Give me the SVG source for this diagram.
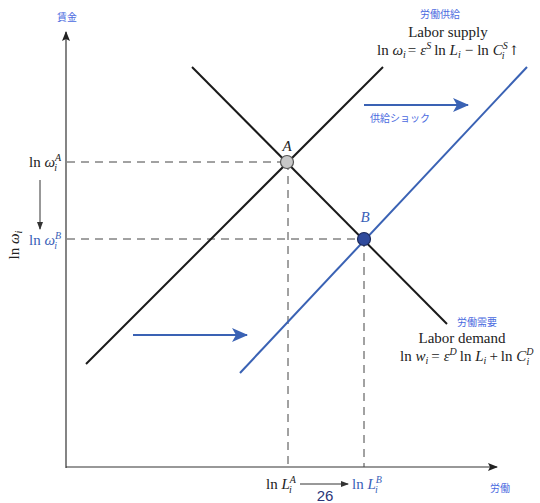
<svg xmlns="http://www.w3.org/2000/svg" width="540" height="503" viewBox="0 0 540 503">
<style>
.t{font-family:"Liberation Serif","DejaVu Serif",serif;font-size:15px;fill:#222}
.tb{font-family:"Liberation Serif","DejaVu Serif",serif;font-size:15px;fill:#3a5fb8}
.i{font-style:italic}
.s{font-size:10px}
.jp{font-family:"Noto Sans CJK JP",sans-serif;font-size:10px;fill:#4a6ae0}
.ax{stroke:#333;stroke-width:1.2;fill:none}
.bk{stroke:#1a1a1a;stroke-width:2;fill:none}
.bl{stroke:#3a62b4;stroke-width:2;fill:none}
.da{stroke:#444;stroke-width:1;stroke-dasharray:8,6;fill:none}
</style>
<defs>
<marker id="ah" markerWidth="10" markerHeight="8" refX="9" refY="4" orient="auto" markerUnits="userSpaceOnUse"><path d="M0,0 L10,4 L0,8 L2,4 Z" fill="#222"/></marker>
<marker id="ahs" markerWidth="8" markerHeight="6" refX="7" refY="3" orient="auto" markerUnits="userSpaceOnUse"><path d="M0,0 L8,3 L0,6 Z" fill="#333"/></marker>
<marker id="ahb" markerWidth="16" markerHeight="14" refX="15" refY="7" orient="auto" markerUnits="userSpaceOnUse"><path d="M0,0 L16,7 L0,14 L4,7 Z" fill="#3a62b4"/></marker>
</defs>
<g id="connectors">
<line class="ax" x1="66" y1="468" x2="66" y2="32" marker-end="url(#ah)"/>
<line class="ax" x1="66" y1="467" x2="497" y2="467" marker-end="url(#ah)"/>
<line class="da" x1="67" y1="162" x2="287" y2="162"/>
<line class="da" x1="288" y1="162" x2="288" y2="467"/>
<line class="da" x1="67" y1="239" x2="364" y2="239"/>
<line class="da" x1="364" y1="239" x2="364" y2="467"/>
<line class="bk" x1="86" y1="364" x2="383" y2="67"/>
<line class="bk" x1="192" y1="67" x2="447" y2="324"/>
<line class="bl" x1="240" y1="373" x2="527" y2="67"/>
<line class="bl" x1="133" y1="335" x2="247" y2="335" marker-end="url(#ahb)"/>
<line class="bl" x1="364" y1="105" x2="468" y2="105" marker-end="url(#ahb)"/>
<line x1="40" y1="180" x2="40" y2="229" stroke="#333" stroke-width="1" marker-end="url(#ahs)"/>
<line x1="300" y1="484" x2="348" y2="484" stroke="#333" stroke-width="1" marker-end="url(#ahs)"/>
</g>
<g id="pointA"><circle cx="287" cy="162" r="6.5" fill="#c8c8c8" stroke="#555" stroke-width="1.2"/><text class="t i" x="287" y="151" text-anchor="middle">A</text></g>
<g id="pointB"><circle cx="364" cy="239" r="6.5" fill="#2f4a9c" stroke="#1c2a5a" stroke-width="1.2"/><text class="tb i" x="365" y="222" text-anchor="middle">B</text></g>
<g id="yaxis-label">
<text class="jp" x="67" y="21" text-anchor="middle">賃金</text>
<text class="t" transform="translate(19,245) rotate(-90)" text-anchor="middle">ln <tspan class="i">ω</tspan><tspan class="i s" dy="3">i</tspan></text>
</g>
<g id="wA"><text class="t" x="29" y="167">ln <tspan class="i">ω</tspan><tspan class="i s" dy="-6">A</tspan><tspan class="i s" dx="-7" dy="10">i</tspan></text></g>
<g id="wB"><text class="tb" x="29" y="245">ln <tspan class="i">ω</tspan><tspan class="i s" dy="-6">B</tspan><tspan class="i s" dx="-7" dy="10">i</tspan></text></g>
<g id="LA"><text class="t" x="266" y="489">ln <tspan class="i">L</tspan><tspan class="i s" dy="-6">A</tspan><tspan class="i s" dx="-7" dy="10">i</tspan></text></g>
<g id="LB"><text class="tb" x="352" y="489">ln <tspan class="i">L</tspan><tspan class="i s" dy="-6">B</tspan><tspan class="i s" dx="-7" dy="10">i</tspan></text></g>
<g id="page"><text x="325" y="501" text-anchor="middle" font-family="Liberation Sans, Arial, sans-serif" font-size="15" fill="#2b3578">26</text></g>
<g id="xaxis-label"><text class="jp" x="500" y="492" text-anchor="middle">労働</text></g>
<g id="supply">
<text class="jp" x="440" y="18" text-anchor="middle">労働供給</text>
<text class="t" x="448" y="37" text-anchor="middle">Labor supply</text>
<text class="t" x="377" y="55">ln <tspan class="i">ω</tspan><tspan class="i s" dy="3">i</tspan><tspan dx="2" dy="-3">=</tspan><tspan class="i" dx="4">ε</tspan><tspan class="i s" dy="-6">S</tspan><tspan dx="3" dy="6">ln </tspan><tspan class="i">L</tspan><tspan class="i s" dy="3">i</tspan><tspan dx="4" dy="-3">−</tspan><tspan dx="4">ln </tspan><tspan class="i">C</tspan><tspan class="i s" dy="-6">S</tspan><tspan class="i s" dx="-6" dy="10">i</tspan><tspan dx="4" dy="-4" font-family="DejaVu Serif" font-size="13">↑</tspan></text>
</g>
<g id="shock"><text class="jp" x="370" y="122">供給ショック</text></g>
<g id="demand">
<text class="jp" x="477" y="326" text-anchor="middle">労働需要</text>
<text class="t" x="462" y="343" text-anchor="middle">Labor demand</text>
<text class="t" x="400" y="361">ln <tspan class="i">w</tspan><tspan class="i s" dy="3">i</tspan><tspan dx="3" dy="-3">=</tspan><tspan class="i" dx="4">ε</tspan><tspan class="i s" dy="-6">D</tspan><tspan dx="3" dy="6">ln </tspan><tspan class="i">L</tspan><tspan class="i s" dy="3">i</tspan><tspan dx="3" dy="-3">+</tspan><tspan dx="3">ln </tspan><tspan class="i">C</tspan><tspan class="i s" dy="-6">D</tspan><tspan class="i s" dx="-7" dy="10">i</tspan></text>
</g>
</svg>
